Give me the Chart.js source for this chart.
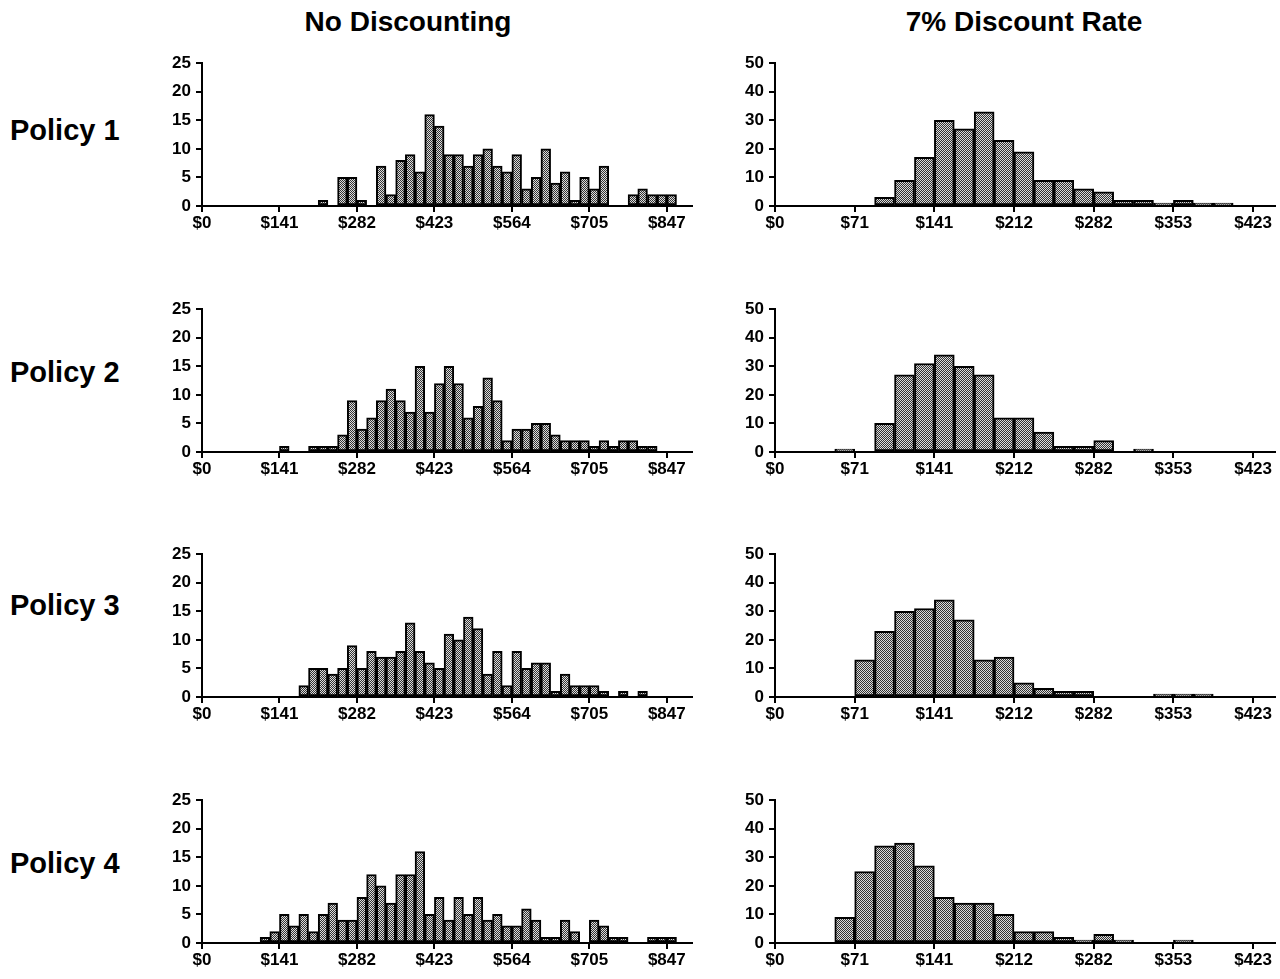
<!DOCTYPE html>
<html>
<head>
<meta charset="utf-8">
<script src="https://cdn.jsdelivr.net/npm/chart.js@4.4.1/dist/chart.umd.min.js"></script>
<style>
  body { margin: 0; background: #fff; width: 1280px; height: 979px; position: relative; overflow: hidden;
         font-family: "Liberation Sans", Arial, sans-serif; }
  .title { position: absolute; top: 6px; width: 400px; text-align: center; font-weight: bold; font-size: 28px; line-height: 32px; }
  .policy { position: absolute; left: 10px; font-weight: bold; font-size: 29px; line-height: 32px; }
  canvas { position: absolute; }
</style>
</head>
<body>
<div class="title" style="left:208px">No Discounting</div>
<div class="title" style="left:824px">7% Discount Rate</div>
<div class="policy" style="top:114px">Policy 1</div>
<div class="policy" style="top:356px">Policy 2</div>
<div class="policy" style="top:589px">Policy 3</div>
<div class="policy" style="top:847px">Policy 4</div>

<canvas id="nd1" width="560" height="188" style="left:150px;top:48px"></canvas>
<canvas id="dr1" width="555" height="188" style="left:723px;top:48px"></canvas>
<canvas id="nd2" width="560" height="188" style="left:150px;top:294px"></canvas>
<canvas id="dr2" width="555" height="188" style="left:723px;top:294px"></canvas>
<canvas id="nd3" width="560" height="188" style="left:150px;top:539px"></canvas>
<canvas id="dr3" width="555" height="188" style="left:723px;top:539px"></canvas>
<canvas id="nd4" width="560" height="188" style="left:150px;top:785px"></canvas>
<canvas id="dr4" width="555" height="188" style="left:723px;top:785px"></canvas>

<script>
// tick labels (every 8th bin on the left, every 4th bin on the right)
const noDiscTicks = ['$0', '$141', '$282', '$423', '$564', '$705', '$847'];
const discTicks = ['$0', '$71', '$141', '$212', '$282', '$353', '$423'];

// counts per bin, no discounting (bin width ~ $17.6, 50 bins)
const noDisc1 = [0,0,0,0,0,0,0,0,0,0,0,0,1,0,5,5,1,0,7,2,8,9,6,16,14,9,9,7,9,10,7,6,9,3,5,10,4,6,1,5,3,7,0,0,2,3,2,2,2,0];
const noDisc2 = [0,0,0,0,0,0,0,0,1,0,0,1,1,1,3,9,4,6,9,11,9,7,15,7,12,15,12,6,8,13,9,2,4,4,5,5,3,2,2,2,1,2,1,2,2,1,1,0,0,0];
const noDisc3 = [0,0,0,0,0,0,0,0,0,0,2,5,5,4,5,9,5,8,7,7,8,13,8,6,5,11,10,14,12,4,8,2,8,5,6,6,1,4,2,2,2,1,0,1,0,1,0,0,0,0];
const noDisc4 = [0,0,0,0,0,0,1,2,5,3,5,2,5,7,4,4,8,12,10,7,12,12,16,5,8,4,8,5,8,4,5,3,3,6,4,1,1,4,2,0,4,3,1,1,0,0,1,1,1,0];

// counts per bin, 7% discount rate (25 bins)
const disc1 = [0,0,0,0,0,3,9,17,30,27,33,23,19,9,9,6,5,2,2,1,2,1,1,0,0];
const disc2 = [0,0,0,1,0,10,27,31,34,30,27,12,12,7,2,2,4,0,1,0,0,0,0,0,0];
const disc3 = [0,0,0,0,13,23,30,31,34,27,13,14,5,3,2,2,0,0,0,1,1,1,0,0,0];
const disc4 = [0,0,0,9,25,34,35,27,16,14,14,10,4,4,2,1,3,1,0,0,1,0,0,0,0];

// dotted grey fill like the old print
const pc = document.createElement('canvas');
pc.width = 2; pc.height = 2;
const pg = pc.getContext('2d');
pg.fillStyle = '#dcdcdc'; pg.fillRect(0, 0, 2, 2);
pg.fillStyle = '#333333'; pg.fillRect(0, 0, 1, 1); pg.fillRect(1, 1, 1, 1);
const dots = pg.createPattern(pc, 'repeat');

const tickFont = {family: '"Liberation Sans", Arial, sans-serif', size: 17, weight: 'bold'};

function histogram(id, counts, labels, binsPerTick, xMax, yMax, yStep, padRight) {
    new Chart(document.getElementById(id), {
        type: 'bar',
        data: {
            datasets: [{
                data: counts.map((c, i) => ({x: i + 0.5, y: c})),
                backgroundColor: dots,
                borderColor: '#000',
                borderWidth: 2,
                borderSkipped: false,
                barPercentage: 1,
                categoryPercentage: 1
            }]
        },
        options: {
            responsive: false,
            animation: false,
            layout: {padding: {top: 10, right: padRight, left: 0, bottom: 0}},
            plugins: {legend: {display: false}, tooltip: {enabled: false}},
            scales: {
                x: {
                    type: 'linear', min: 0, max: xMax, offset: false,
                    grid: {drawOnChartArea: false, tickLength: 6, color: '#000', lineWidth: 2, offset: false},
                    border: {color: '#000', width: 2},
                    afterBuildTicks: s => { s.ticks = labels.map((_, k) => ({value: k * binsPerTick})); },
                    ticks: {
                        autoSkip: false, maxRotation: 0, padding: 1, color: '#000', font: tickFont,
                        callback: v => labels[Math.round(v / binsPerTick)]
                    },
                    afterFit: s => { s.height = 30; }
                },
                y: {
                    min: 0, max: yMax,
                    grid: {drawOnChartArea: false, tickLength: 6, color: '#000', lineWidth: 2},
                    border: {color: '#000', width: 2},
                    ticks: {stepSize: yStep, padding: 5, color: '#000', font: tickFont},
                    afterFit: s => { s.width = 52; }
                }
            }
        }
    });
}

histogram('nd1', noDisc1, noDiscTicks, 8, 50.6, 25, 5, 18);
histogram('nd2', noDisc2, noDiscTicks, 8, 50.6, 25, 5, 18);
histogram('nd3', noDisc3, noDiscTicks, 8, 50.6, 25, 5, 18);
histogram('nd4', noDisc4, noDiscTicks, 8, 50.6, 25, 5, 18);
histogram('dr1', disc1, discTicks, 4, 25.1, 50, 10, 3);
histogram('dr2', disc2, discTicks, 4, 25.1, 50, 10, 3);
histogram('dr3', disc3, discTicks, 4, 25.1, 50, 10, 3);
histogram('dr4', disc4, discTicks, 4, 25.1, 50, 10, 3);
</script>
</body>
</html>
